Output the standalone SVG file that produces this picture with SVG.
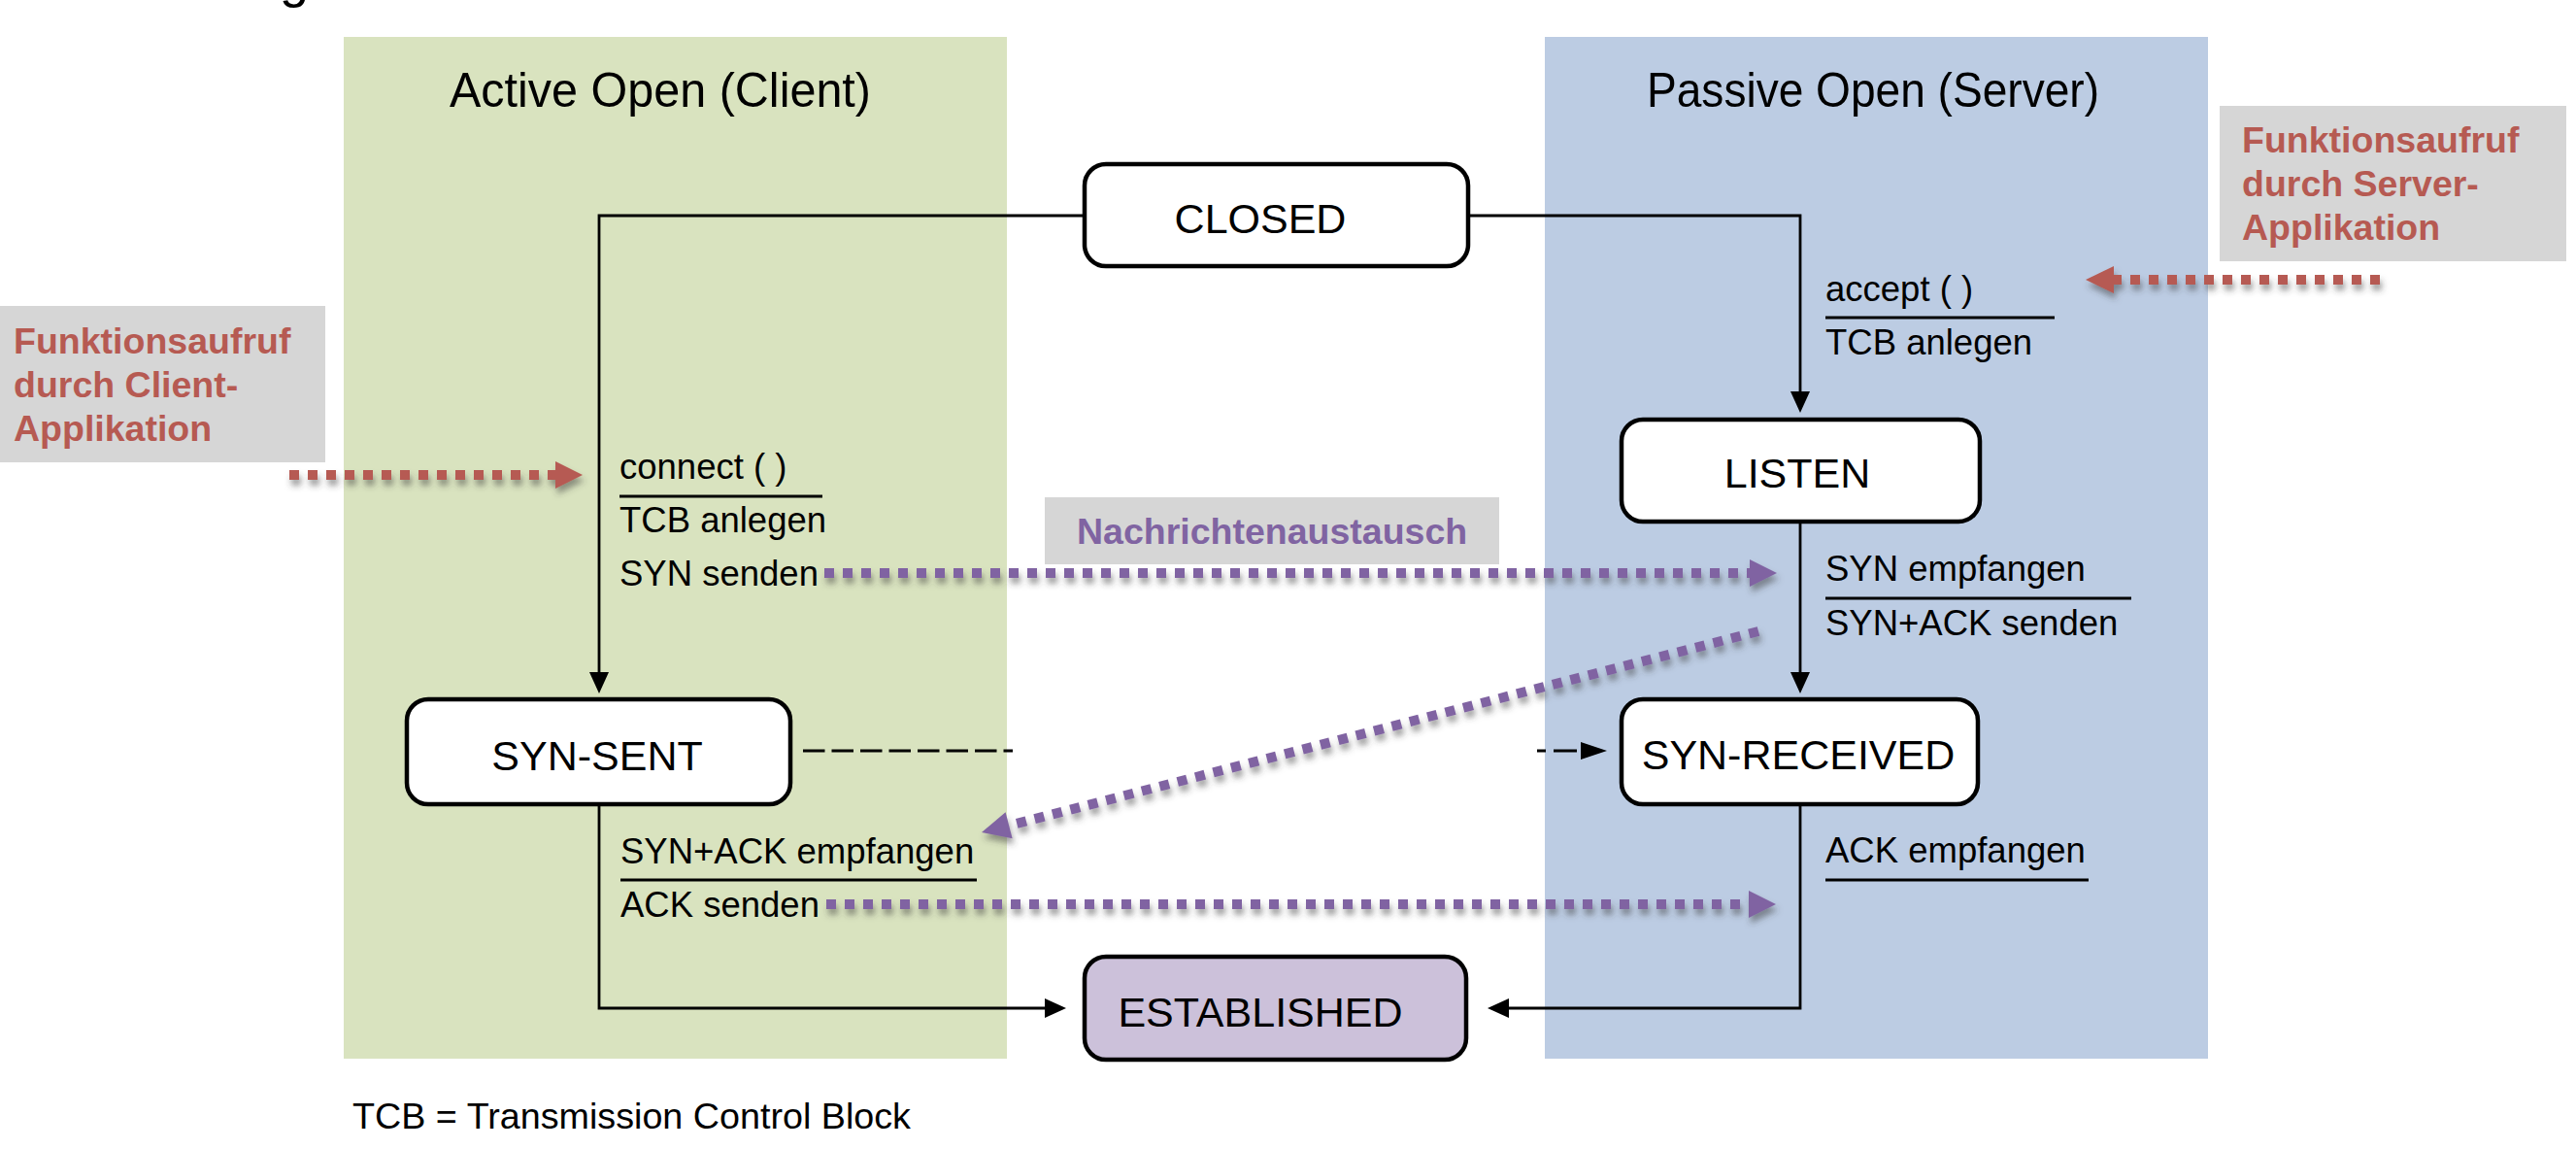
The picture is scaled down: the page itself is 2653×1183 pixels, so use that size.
<svg xmlns="http://www.w3.org/2000/svg" width="2653" height="1183" viewBox="0 0 2653 1183">
<defs>
<style>
text { font-family: "Liberation Sans", Arial, sans-serif; fill:#000; }
.state rect { fill:#fff; stroke:#000; stroke-width:4.5; }
#established rect { fill:#CCC1DA; }
.state text { font-size:43px; text-anchor:middle; }
.title { font-size:50px; }
.lbl { font-size:36.5px; }
.ul { stroke:#000; stroke-width:3; }
.conn { fill:none; stroke:#000; stroke-width:2.8; }
.dash { fill:none; stroke:#000; stroke-width:3; }
.note { fill:#D6D6D6; }
.red { fill:#B65A52; font-weight:bold; font-size:37.5px; }
.purple { fill:#8064A2; font-weight:bold; font-size:37.5px; }
.dR { fill:none; stroke:#B65A52; stroke-width:10; stroke-dasharray:10 9; }
.dP { fill:none; stroke:#8064A2; stroke-width:10; stroke-dasharray:10 9; }
.hR { fill:#B65A52; }
.hP { fill:#8064A2; }
</style>
<marker id="ah" markerUnits="userSpaceOnUse" markerWidth="22" markerHeight="20" refX="12" refY="10" orient="auto">
<path d="M0,0 L22,10 L0,20 z" fill="#000"/>
</marker>
<filter id="sh" x="-20%" y="-150%" width="140%" height="400%">
<feDropShadow dx="2" dy="6" stdDeviation="3" flood-color="#3a3a3a" flood-opacity="0.5"/>
</filter>
</defs>

<rect width="2653" height="1183" fill="#fff"/>
<text x="288" y="-3" style="font-size:54px">g</text>

<g id="panel-client">
<rect x="354" y="38" width="683" height="1052" fill="#D9E3BF"/>
<text class="title" x="463" y="110" textLength="434" lengthAdjust="spacingAndGlyphs">Active Open (Client)</text>
</g>
<g id="panel-server">
<rect x="1591" y="38" width="683" height="1052" fill="#BCCCE3"/>
<text class="title" x="1696" y="110" textLength="466" lengthAdjust="spacingAndGlyphs">Passive Open (Server)</text>
</g>

<g id="note-client">
<rect class="note" x="0" y="315" width="335" height="161"/>
<text class="red" x="14" y="364">Funktionsaufruf</text>
<text class="red" x="14" y="409">durch Client-</text>
<text class="red" x="14" y="454">Applikation</text>
</g>
<g id="note-server">
<rect class="note" x="2286" y="109" width="357" height="160"/>
<text class="red" x="2309" y="157">Funktionsaufruf</text>
<text class="red" x="2309" y="202">durch Server-</text>
<text class="red" x="2309" y="247">Applikation</text>
</g>
<g id="note-messages">
<rect class="note" x="1076" y="512" width="468" height="69"/>
<text class="purple" x="1109" y="560">Nachrichtenaustausch</text>
</g>

<g id="connectors">
<path class="conn" d="M1117,222 H617 V704" marker-end="url(#ah)"/>
<path class="conn" d="M1512,222 H1854 V415" marker-end="url(#ah)"/>
<path class="conn" d="M1854,537 V704" marker-end="url(#ah)"/>
<path class="conn" d="M617,828 V1038 H1088" marker-end="url(#ah)"/>
<path class="conn" d="M1854,828 V1038 H1542" marker-end="url(#ah)"/>
<path class="dash" d="M827,773 H1043" stroke-dasharray="22.5 7"/>
<path class="dash" d="M1583,773 H1592 M1600,773 H1624"/>
<polygon points="1628,764 1655,773 1628,782" fill="#000"/>
</g>

<g id="labels">
<text class="lbl" x="638" y="493">connect ( )</text>
<line class="ul" x1="638" y1="511" x2="847" y2="511"/>
<text class="lbl" x="638" y="548">TCB anlegen</text>
<text class="lbl" x="638" y="603">SYN senden</text>

<text class="lbl" x="1880" y="310">accept ( )</text>
<line class="ul" x1="1880" y1="327" x2="2116" y2="327"/>
<text class="lbl" x="1880" y="365">TCB anlegen</text>

<text class="lbl" x="1880" y="598">SYN empfangen</text>
<line class="ul" x1="1880" y1="616" x2="2195" y2="616"/>
<text class="lbl" x="1880" y="654">SYN+ACK senden</text>

<text class="lbl" x="639" y="889">SYN+ACK empfangen</text>
<line class="ul" x1="639" y1="906" x2="1006" y2="906"/>
<text class="lbl" x="639" y="944">ACK senden</text>

<text class="lbl" x="1880" y="888">ACK empfangen</text>
<line class="ul" x1="1880" y1="906" x2="2151" y2="906"/>
</g>

<g id="closed" class="state">
<rect x="1117" y="169" width="395" height="105" rx="22"/>
<text x="1298" y="240">CLOSED</text>
</g>
<g id="listen" class="state">
<rect x="1670" y="432" width="369" height="105" rx="22"/>
<text x="1851" y="502">LISTEN</text>
</g>
<g id="syn-sent" class="state">
<rect x="419" y="720" width="395" height="108" rx="22"/>
<text x="615" y="793">SYN-SENT</text>
</g>
<g id="syn-received" class="state">
<rect x="1670" y="720" width="367" height="108" rx="22"/>
<text x="1852" y="792">SYN-RECEIVED</text>
</g>
<g id="established" class="state">
<rect x="1117" y="985" width="393" height="106" rx="22"/>
<text x="1298" y="1057">ESTABLISHED</text>
</g>

<g id="call-arrows">
<g filter="url(#sh)">
<path class="dR" d="M298,489 H572"/>
<polygon class="hR" points="572,475 600,489 572,503"/>
</g>
<g filter="url(#sh)">
<path class="dR" d="M2451,288 H2177"/>
<polygon class="hR" points="2177,274 2148,288 2177,302"/>
</g>
</g>
<g id="message-arrows">
<g filter="url(#sh)">
<path class="dP" d="M849,590 H1802"/>
<polygon class="hP" points="1802,576 1830,590 1802,604"/>
</g>
<g filter="url(#sh)">
<path class="dP" d="M1811,650 L1039,850"/>
<polygon class="hP" points="1042.6,863.3 1011,857 1035.6,836.2"/>
</g>
<g filter="url(#sh)">
<path class="dP" d="M851,931 H1801"/>
<polygon class="hP" points="1801,917 1829,931 1801,945"/>
</g>
</g>

<text x="363" y="1162" style="font-size:37.7px">TCB = Transmission Control Block</text>
</svg>
